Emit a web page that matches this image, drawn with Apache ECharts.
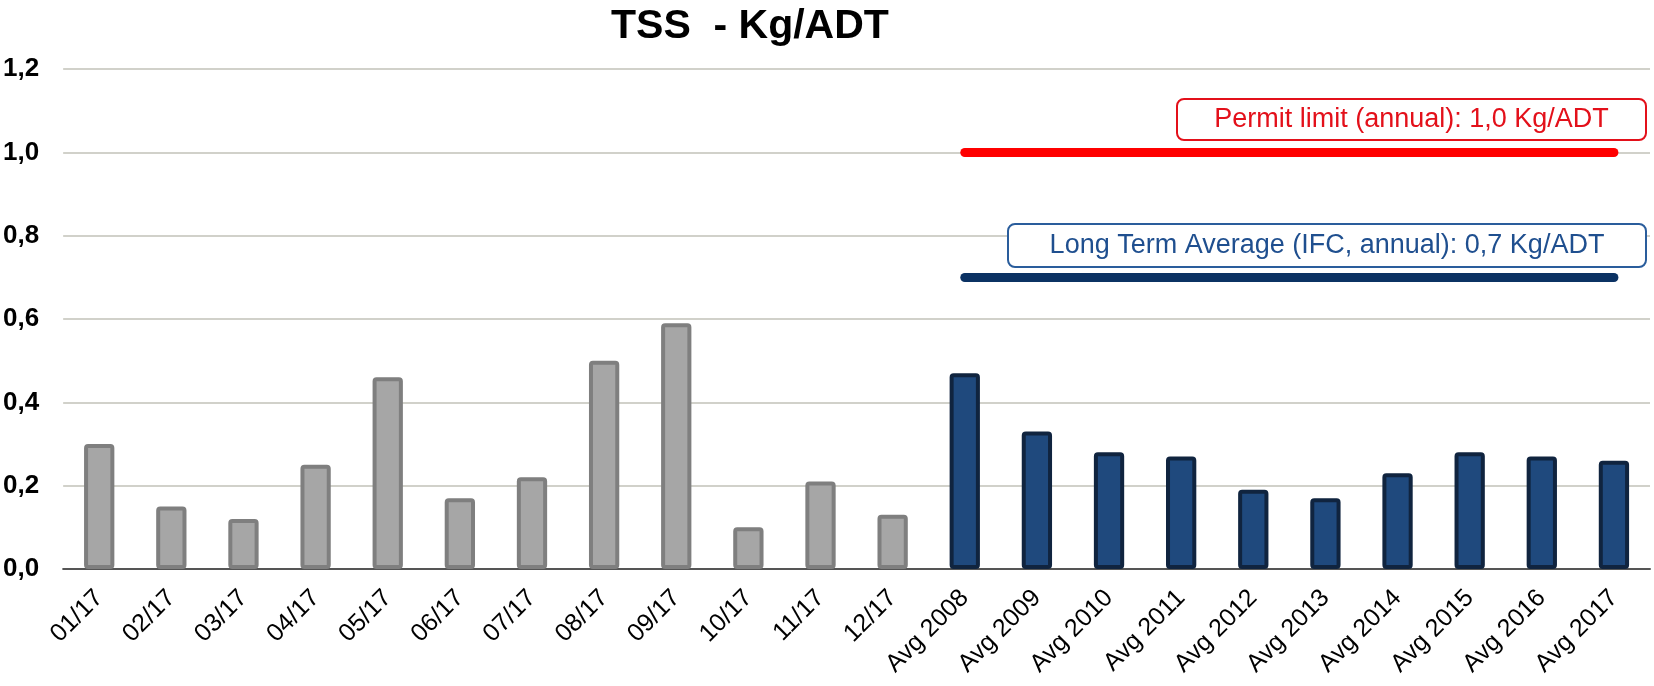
<!DOCTYPE html>
<html>
<head>
<meta charset="utf-8">
<title>TSS - Kg/ADT</title>
<script src="https://cdn.jsdelivr.net/npm/echarts@6/dist/echarts.min.js"></script>
<style>
  html, body { margin: 0; padding: 0; background: #fff; }
</style>
</head>
<body>
<div id="container" style="width: 1654px; height: 686px;"></div>
<script>
// monthly values 2017
var monthLabels = ['01/17', '02/17', '03/17', '04/17', '05/17', '06/17', '07/17', '08/17', '09/17', '10/17', '11/17', '12/17'];
var monthValues = [0.30, 0.15, 0.12, 0.25, 0.46, 0.17, 0.22, 0.50, 0.59, 0.10, 0.21, 0.13];
// yearly averages
var avgLabels = ['Avg 2008', 'Avg 2009', 'Avg 2010', 'Avg 2011', 'Avg 2012', 'Avg 2013', 'Avg 2014', 'Avg 2015', 'Avg 2016', 'Avg 2017'];
var avgValues = [0.47, 0.33, 0.28, 0.27, 0.19, 0.17, 0.23, 0.28, 0.27, 0.26];
// limits
var permitLimit = 1.0;
var longTermAvg = 0.7;
var permitText = 'Permit limit (annual): 1,0 Kg/ADT';
var ltaText = 'Long Term Average (IFC, annual): 0,7 Kg/ADT';

var categories = monthLabels.concat(avgLabels);
var monthData = monthValues.concat(avgLabels.map(function () { return '-'; }));
var avgData = monthLabels.map(function () { return '-'; }).concat(avgValues);

var font = "'Liberation Sans', Arial, sans-serif";

// framed note box (rect + centered text), drawn above the grid lines
function noteBox(x, y, w, h, text, color, border) {
  return {
    type: 'group',
    z: 100,
    children: [
      {
        type: 'rect',
        z: 100,
        shape: { x: x, y: y, width: w, height: h, r: 7 },
        style: { fill: '#fff', stroke: border, lineWidth: 2 }
      },
      {
        type: 'text',
        z: 101,
        x: x + w / 2,
        y: y + h / 2,
        style: {
          text: text,
          fontFamily: font,
          fontSize: 27,
          fill: color,
          align: 'center',
          verticalAlign: 'middle'
        }
      }
    ]
  };
}

var chart = echarts.init(document.getElementById('container'));
var option = {
  animation: false,
  title: {
    text: 'TSS  - Kg/ADT',
    left: 611,
    top: 6,
    padding: 0,
    textStyle: { fontFamily: font, fontSize: 41, fontWeight: 'bold', color: '#000' }
  },
  grid: { left: 63, right: 4, top: 69, bottom: 117 },
  xAxis: {
    type: 'category',
    data: categories,
    axisLine: { lineStyle: { color: '#555', width: 2 } },
    axisTick: { length: 8, lineStyle: { color: '#333', width: 1.5 } },
    axisLabel: {
      rotate: 45,
      interval: 0,
      margin: 25,
      fontFamily: font,
      fontSize: 25,
      color: '#000'
    }
  },
  yAxis: {
    type: 'value',
    min: 0,
    max: 1.2,
    interval: 0.2,
    axisLine: { show: false },
    axisTick: { show: false },
    splitLine: { lineStyle: { color: '#c2c2b8', width: 1.5 } },
    axisLabel: {
      margin: 24,
      fontFamily: font,
      fontSize: 26,
      fontWeight: 'bold',
      color: '#000',
      formatter: function (v) { return v.toFixed(1).replace('.', ','); }
    }
  },
  series: [
    {
      name: 'month',
      type: 'bar',
      stack: 'all',
      barWidth: '42%',
      data: monthData,
      itemStyle: { color: '#a6a6a6', borderColor: '#7f7f7f', borderWidth: 4, borderRadius: 2 }
    },
    {
      name: 'avg',
      type: 'bar',
      stack: 'all',
      barWidth: '42%',
      data: avgData,
      itemStyle: { color: '#1f497d', borderColor: '#10243f', borderWidth: 4, borderRadius: 2 },
      markLine: {
        silent: true,
        symbol: 'none',
        label: { show: false },
        data: [
          [
            { coord: [avgLabels[0], permitLimit], lineStyle: { color: '#ff0000', width: 9, cap: 'round', type: 'solid' } },
            { coord: [avgLabels[avgLabels.length - 1], permitLimit] }
          ],
          [
            { coord: [avgLabels[0], longTermAvg], lineStyle: { color: '#0b3263', width: 9, cap: 'round', type: 'solid' } },
            { coord: [avgLabels[avgLabels.length - 1], longTermAvg] }
          ]
        ]
      }
    }
  ],
  graphic: [
    noteBox(1177, 99, 469, 41, permitText, '#e3101a', '#e3101a'),
    noteBox(1008, 224, 638, 43, ltaText, '#1f4f8f', '#2a5d9c')
  ]
};

chart.setOption(option);
</script>
</body>
</html>
